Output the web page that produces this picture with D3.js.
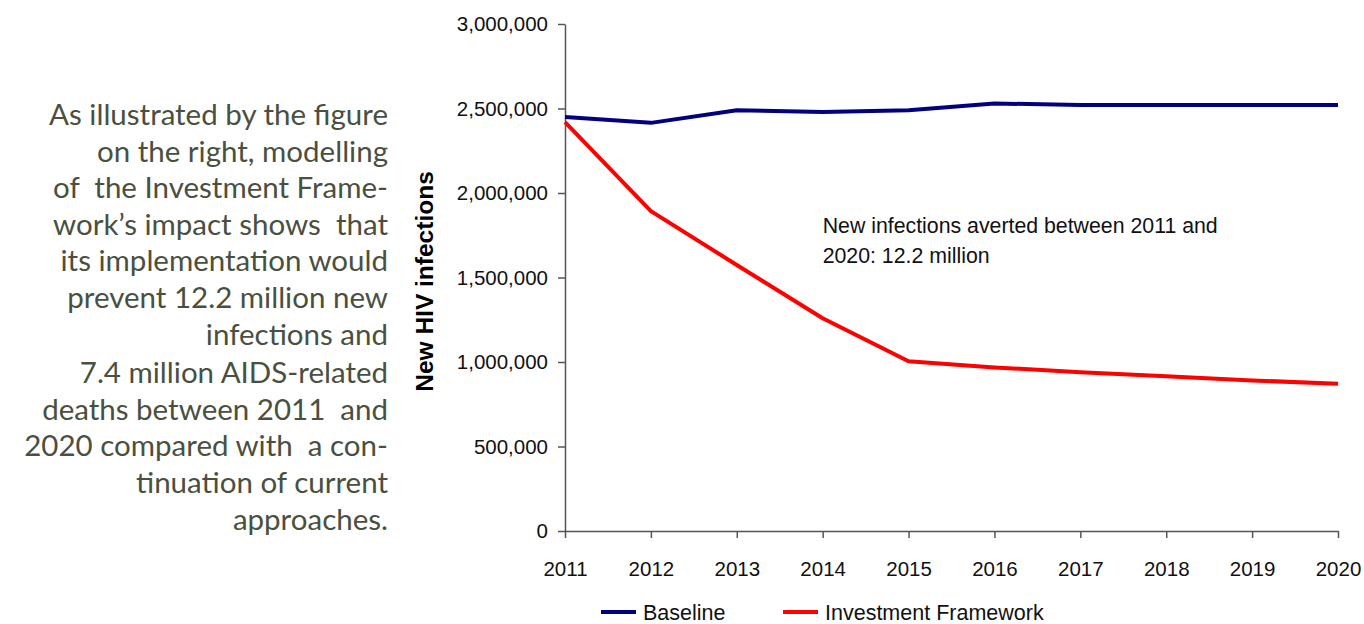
<!DOCTYPE html>
<html>
<head>
<meta charset="utf-8">
<script src="https://cdn.jsdelivr.net/npm/d3@7"></script>
<style>
  body { margin: 0; background: #fff; }
  svg { display: block; }
  .axis text { font-family: "Liberation Sans", Arial, sans-serif; font-size: 20.5px; fill: #111; }
  .axis path, .axis line { stroke: #555; stroke-width: 1.5px; }
  .blurb { font-family: Lato, "Open Sans", sans-serif; font-size: 29.5px; fill: #4a5040; }
</style>
</head>
<body>
<svg id="chart" width="1364" height="624"></svg>
<script>
const years = [2011, 2012, 2013, 2014, 2015, 2016, 2017, 2018, 2019, 2020]
const baseline = [2450000, 2415000, 2490000, 2480000, 2490000, 2530000, 2520000, 2520000, 2520000, 2520000]
const investment = [2420000, 1893000, 1574000, 1259000, 1004000, 968000, 940000, 915000, 891000, 871000]
const yTicks = [0, 500000, 1000000, 1500000, 2000000, 2500000, 3000000]
const seriesNames = ["Baseline", "Investment Framework"]
const seriesColors = ["#000080", "#ff0000"]
const blurbLines = [
  "As illustrated by the figure",
  "on the right, modelling",
  "of  the Investment Frame-",
  "work\u2019s impact shows  that",
  "its implementation would",
  "prevent 12.2 million new",
  "infections and",
  "7.4 million AIDS-related",
  "deaths between 2011  and",
  "2020 compared with  a con-",
  "tinuation of current",
  "approaches."
]
const noteLines = ["New infections averted between 2011 and", "2020: 12.2 million"]

const svg = d3.select("#chart")

let dimensions = {
  width: 1364,
  height: 624,
  margin: { top: 24, right: 26, bottom: 93, left: 565 }
}
dimensions.boundedWidth = dimensions.width - dimensions.margin.left - dimensions.margin.right
dimensions.boundedHeight = dimensions.height - dimensions.margin.top - dimensions.margin.bottom

// left-hand blurb
svg.append("g")
  .selectAll("text")
  .data(blurbLines)
  .enter()
  .append("text")
    .attr("class", "blurb")
    .attr("x", 388)
    .attr("y", (d, i) => 125 + i * 36.6 + (i >= 7 ? 2 : 0))
    .attr("text-anchor", "end")
    .style("white-space", "pre")
    .text(d => d)

const bounds = svg.append("g")
  .attr("transform", `translate(${dimensions.margin.left},${dimensions.margin.top})`)

const xScale = d3.scaleLinear()
  .domain([2011, 2020])
  .range([0, dimensions.boundedWidth])

const yScale = d3.scaleLinear()
  .domain([0, 3000000])
  .range([dimensions.boundedHeight, 0])

const xAxis = d3.axisBottom(xScale)
  .tickValues(years)
  .tickFormat(d3.format("d"))
  .tickSize(7)
  .tickSizeOuter(0)

const yAxis = d3.axisLeft(yScale)
  .tickValues(yTicks)
  .tickFormat(d3.format(","))
  .tickSize(7)
  .tickSizeOuter(0)

bounds.append("g")
  .attr("class", "axis")
  .call(yAxis)
  .call(g => g.selectAll("text").attr("x", -17))

bounds.append("g")
  .attr("class", "axis")
  .attr("transform", `translate(0,${dimensions.boundedHeight})`)
  .call(xAxis)
  .call(g => g.selectAll("text").attr("y", 30))

// y axis title
svg.append("text")
  .attr("transform", `translate(433,${dimensions.margin.top + dimensions.boundedHeight / 2 + 4}) rotate(-90)`)
  .attr("text-anchor", "middle")
  .style("font-family", "'Liberation Sans', Arial, sans-serif")
  .style("font-weight", "bold")
  .style("font-size", "24.5px")
  .style("fill", "#000")
  .text("New HIV infections")

const line = d3.line()
  .x((d, i) => xScale(years[i]))
  .y(d => yScale(d))

bounds.selectAll(".series")
  .data([baseline, investment])
  .enter()
  .append("path")
    .attr("class", "series")
    .attr("d", d => line(d))
    .attr("fill", "none")
    .attr("stroke", (d, i) => seriesColors[i])
    .attr("stroke-width", 4)
    .attr("stroke-linejoin", "round")

// annotation
bounds.append("g")
  .selectAll("text")
  .data(noteLines)
  .enter()
  .append("text")
    .attr("x", xScale(2014))
    .attr("y", (d, i) => 209 + i * 30)
    .style("font-family", "'Liberation Sans', Arial, sans-serif")
    .style("font-size", "21.3px")
    .style("fill", "#111")
    .text(d => d)

// legend
const legendX = [601, 783]
const legend = svg.append("g")
  .selectAll("g")
  .data(seriesNames)
  .enter()
  .append("g")
    .attr("transform", (d, i) => `translate(${legendX[i]},612)`)

legend.append("line")
  .attr("x1", 0)
  .attr("x2", 35)
  .attr("y1", 0)
  .attr("y2", 0)
  .attr("stroke", (d, i) => seriesColors[i])
  .attr("stroke-width", 4)

legend.append("text")
  .attr("x", 42)
  .attr("y", 8)
  .style("font-family", "'Liberation Sans', Arial, sans-serif")
  .style("font-size", "21.5px")
  .style("fill", "#111")
  .text(d => d)
</script>
</body>
</html>
